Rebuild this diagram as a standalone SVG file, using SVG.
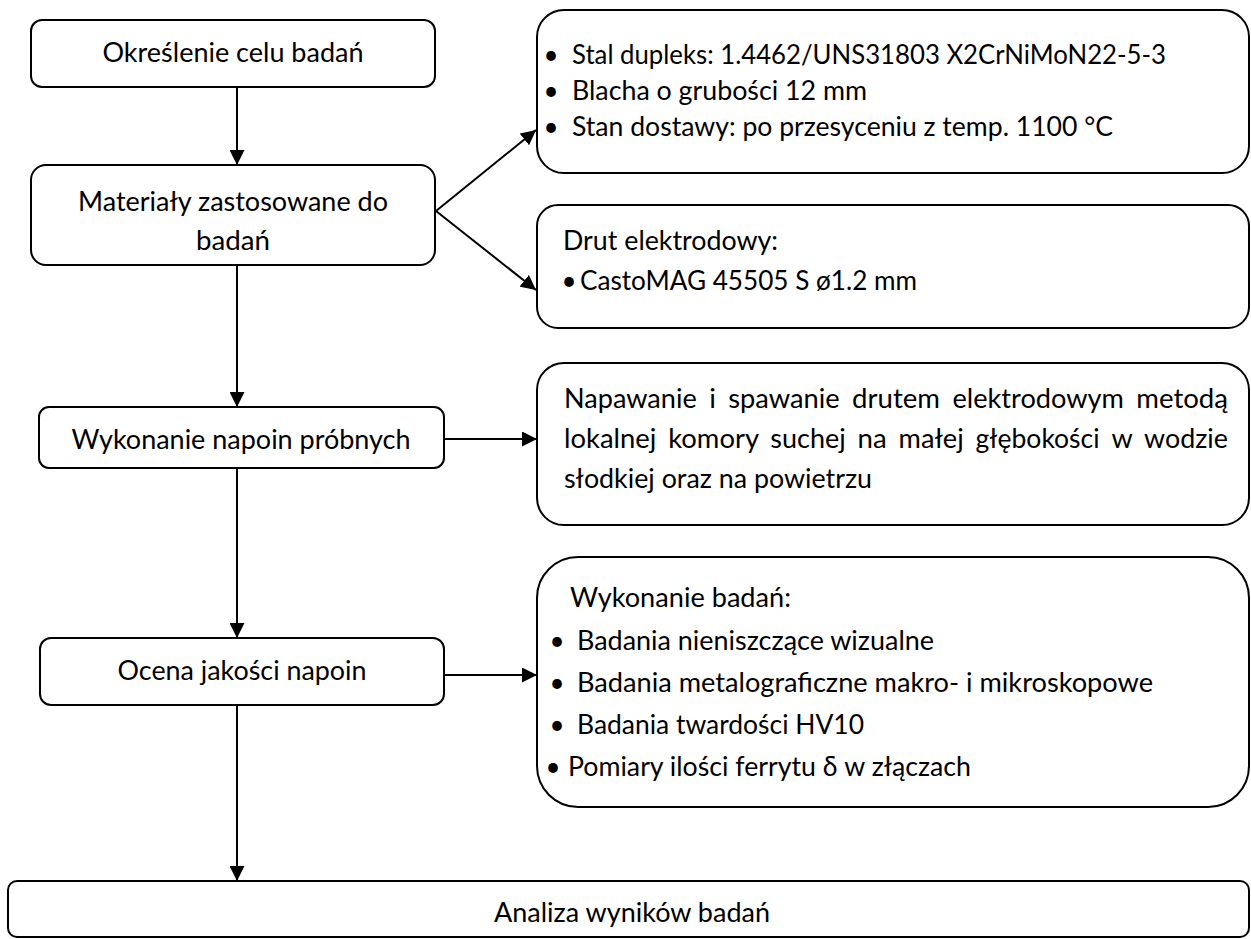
<svg xmlns="http://www.w3.org/2000/svg" width="1251" height="939" viewBox="0 0 1251 939">
<style>
.box{fill:#fff;stroke:#000;stroke-width:2}
.t{font-family:Lato,"Open Sans","Liberation Sans",sans-serif;font-size:26px;fill:#000}
.c{text-anchor:middle}
.conn line{stroke:#000;stroke-width:2;marker-end:url(#ah)}
</style>
<defs>
<marker id="ah" viewBox="0 0 10 10" refX="10" refY="5" markerWidth="15" markerHeight="15" markerUnits="userSpaceOnUse" orient="auto">
<path d="M0,0 L10,5 L0,10 z" fill="#000"/>
</marker>
</defs>
<rect width="1251" height="939" fill="#fff"/>
<g id="connectors" class="conn">
<line x1="237" y1="87" x2="237" y2="165"/>
<line x1="237" y1="265" x2="237" y2="407"/>
<line x1="237" y1="468" x2="237" y2="638"/>
<line x1="237" y1="705" x2="237" y2="881"/>
<line x1="436" y1="211" x2="536" y2="130"/>
<line x1="436" y1="211" x2="536" y2="290"/>
<line x1="444" y1="439" x2="537" y2="439"/>
<line x1="444" y1="675" x2="537" y2="675"/>
</g>
<g id="n1">
<rect class="box" x="31" y="20" width="404" height="67" rx="11"/>
<text class="t c" x="233" y="62" textLength="261" lengthAdjust="spacingAndGlyphs">Określenie celu badań</text>
</g>
<g id="n2">
<rect class="box" x="31" y="165" width="404" height="100" rx="15"/>
<text class="t c" x="233" y="211" textLength="310" lengthAdjust="spacingAndGlyphs">Materiały zastosowane do</text>
<text class="t c" x="233" y="250" textLength="74" lengthAdjust="spacingAndGlyphs">badań</text>
</g>
<g id="n3">
<rect class="box" x="39" y="407" width="405" height="61" rx="10"/>
<text class="t c" x="241" y="449" textLength="339" lengthAdjust="spacingAndGlyphs">Wykonanie napoin próbnych</text>
</g>
<g id="n4">
<rect class="box" x="40" y="638" width="404" height="67" rx="11"/>
<text class="t c" x="242" y="680" textLength="249" lengthAdjust="spacingAndGlyphs">Ocena jakości napoin</text>
</g>
<g id="n5">
<rect class="box" x="8" y="881" width="1241" height="56" rx="9"/>
<text class="t c" x="632" y="922" textLength="276" lengthAdjust="spacingAndGlyphs">Analiza wyników badań</text>
</g>
<g id="nA">
<rect class="box" x="537" y="10" width="712" height="163" rx="27"/>
<text class="t c" x="551" y="64">•</text>
<text class="t" x="572" y="64" textLength="594" lengthAdjust="spacingAndGlyphs">Stal dupleks: 1.4462/UNS31803 X2CrNiMoN22-5-3</text>
<text class="t c" x="551" y="100">•</text>
<text class="t" x="572" y="100" textLength="295" lengthAdjust="spacingAndGlyphs">Blacha o grubości 12 mm</text>
<text class="t c" x="551" y="136">•</text>
<text class="t" x="572" y="136" textLength="541" lengthAdjust="spacingAndGlyphs">Stan dostawy: po przesyceniu z temp. 1100 °C</text>
</g>
<g id="nB">
<rect class="box" x="537" y="205" width="712" height="123" rx="21"/>
<text class="t" x="563" y="250" textLength="215" lengthAdjust="spacingAndGlyphs">Drut elektrodowy:</text>
<text class="t c" x="569" y="290">•</text>
<text class="t" x="580" y="290" textLength="337" lengthAdjust="spacingAndGlyphs">CastoMAG 45505 S ø1.2 mm</text>
</g>
<g id="nC">
<rect class="box" x="537" y="363" width="712" height="162" rx="27"/>
<text class="t" y="408"><tspan x="564" textLength="132.7" lengthAdjust="spacingAndGlyphs">Napawanie</tspan> <tspan x="709.2" textLength="6.7" lengthAdjust="spacingAndGlyphs">i</tspan> <tspan x="728.3" textLength="111.4" lengthAdjust="spacingAndGlyphs">spawanie</tspan> <tspan x="852.1" textLength="87.9" lengthAdjust="spacingAndGlyphs">drutem</tspan> <tspan x="952.5" textLength="171.4" lengthAdjust="spacingAndGlyphs">elektrodowym</tspan> <tspan x="1136.3" textLength="91.7" lengthAdjust="spacingAndGlyphs">metodą</tspan></text>
<text class="t" y="448"><tspan x="564" textLength="92.3" lengthAdjust="spacingAndGlyphs">lokalnej</tspan> <tspan x="668.2" textLength="90.2" lengthAdjust="spacingAndGlyphs">komory</tspan> <tspan x="770.3" textLength="75.4" lengthAdjust="spacingAndGlyphs">suchej</tspan> <tspan x="857.6" textLength="29.1" lengthAdjust="spacingAndGlyphs">na</tspan> <tspan x="898.6" textLength="65.1" lengthAdjust="spacingAndGlyphs">małej</tspan> <tspan x="975.6" textLength="124" lengthAdjust="spacingAndGlyphs">głębokości</tspan> <tspan x="1111.5" textLength="20.7" lengthAdjust="spacingAndGlyphs">w</tspan> <tspan x="1144.1" textLength="83.8" lengthAdjust="spacingAndGlyphs">wodzie</tspan></text>
<text class="t" x="564" y="488" textLength="308" lengthAdjust="spacingAndGlyphs">słodkiej oraz na powietrzu</text>
</g>
<g id="nD">
<rect class="box" x="537" y="557" width="712" height="250" rx="41"/>
<text class="t" x="570" y="607" textLength="221" lengthAdjust="spacingAndGlyphs">Wykonanie badań:</text>
<text class="t c" x="557" y="650">•</text>
<text class="t" x="577" y="650" textLength="357" lengthAdjust="spacingAndGlyphs">Badania nieniszczące wizualne</text>
<text class="t c" x="557" y="692">•</text>
<text class="t" x="577" y="692" textLength="576" lengthAdjust="spacingAndGlyphs">Badania metalograficzne makro- i mikroskopowe</text>
<text class="t c" x="557" y="734">•</text>
<text class="t" x="577" y="734" textLength="287" lengthAdjust="spacingAndGlyphs">Badania twardości HV10</text>
<text class="t c" x="553" y="776">•</text>
<text class="t" x="568" y="776" textLength="403" lengthAdjust="spacingAndGlyphs">Pomiary ilości ferrytu δ w złączach</text>
</g>
</svg>
